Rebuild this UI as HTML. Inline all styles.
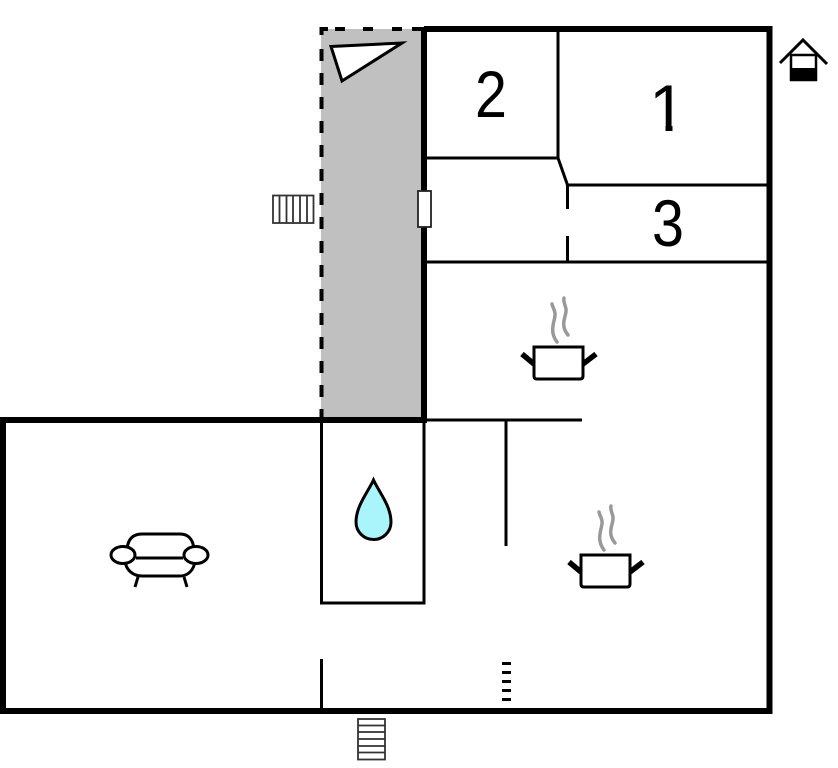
<!DOCTYPE html>
<html><head><meta charset="utf-8"><style>html,body{margin:0;padding:0;background:#fff}svg{display:block}text{font-family:"Liberation Sans",sans-serif;fill:#000}</style></head>
<body>
<svg width="838" height="768" viewBox="0 0 838 768" xmlns="http://www.w3.org/2000/svg">
<defs><clipPath id="one"><path d="M650 78H680V124H672.500V134H665.500V124H650Z"/></clipPath></defs>
<rect x="321" y="29" width="103" height="391" fill="#c0c0c0"/>
<g fill="none" stroke="#000" stroke-linecap="butt">
<path d="M321.500 49V420" stroke-width="4" stroke-dasharray="12 12"/>
<path d="M319.500 29H328M335 29H345M363 29H373M392 29H402M412 29H424" stroke-width="4"/>
<path d="M321.500 35V29" stroke-width="4"/>
<path d="M424 29H769.500V711H3V420H424V29" stroke-width="6"/>
<path d="M558 29V158L567.500 185V209M567.500 236V262M426 158H558M567.500 185H767M426 262H767" stroke-width="3"/>
<path d="M321.500 420V603H424V420M426 420H582M506 420V546M321.500 659V711" stroke-width="3"/>
<path d="M506.500 662V702" stroke-width="9" stroke-dasharray="3 6"/>
</g>
<path d="M331 46.500L402 43L342 81Z" fill="#fff" stroke="#000" stroke-width="3" stroke-linejoin="miter"/>
<g fill="none" stroke="#333" stroke-width="1.800">
<rect x="273" y="195.500" width="40.500" height="27.500"/>
<path d="M279.500 195.500V223M286.500 195.500V223M293 195.500V223M300 195.500V223M307 195.500V223"/>
<rect x="358" y="719" width="27" height="40.500"/>
<path d="M358 725.500H385M358 732H385M358 739H385M358 746H385M358 752.500H385"/>
</g>
<rect x="418" y="191" width="13" height="36" fill="#fff" stroke="#222" stroke-width="1.800"/>
<path d="M780 63L803 40L827 64" fill="none" stroke="#000" stroke-width="3"/>
<rect x="791" y="55" width="25" height="25" fill="#fff" stroke="#000" stroke-width="2.500"/>
<rect x="790" y="68" width="27" height="13" fill="#000"/>
<text x="491" y="117" font-size="66" text-anchor="middle" transform="translate(491 0) scale(.87 1) translate(-491 0)">2</text>
<text x="667.500" y="131" font-size="66" text-anchor="middle" clip-path="url(#one)">1</text>
<text x="668" y="246" font-size="66" text-anchor="middle" transform="translate(668 0) scale(.87 1) translate(-668 0)">3</text>
<g fill="none">
<path d="M557 342C548 330 556 320 555 313C554 308 552 306 552 304M568 335C559 324 567 316 566 309C565 304 563 301 564 298" stroke="#999" stroke-width="3.500" stroke-linecap="round"/>
<path d="M534 347H583V376Q583 379 580 379H537Q534 379 534 376Z" fill="#fff" stroke="#000" stroke-width="3"/>
<path d="M534 364L522 354M583 364L596 354" stroke="#000" stroke-width="5.500"/>
</g>
<g fill="none" transform="translate(47,208)">
<path d="M557 342C548 330 556 320 555 313C554 308 552 306 552 304M568 335C559 324 567 316 566 309C565 304 563 301 564 298" stroke="#999" stroke-width="3.500" stroke-linecap="round"/>
<path d="M534 347H583V376Q583 379 580 379H537Q534 379 534 376Z" fill="#fff" stroke="#000" stroke-width="3"/>
<path d="M534 364L522 354M583 364L596 354" stroke="#000" stroke-width="5.500"/>
</g>
<path d="M373.500 480C368 492 356 506 356 522C356 532 364 539.500 373.500 539.500C383 539.500 391 532 391 522C391 506 379 492 373.500 480Z" fill="#aaf5fb" stroke="#000" stroke-width="3"/>
<g fill="none" stroke="#000" stroke-width="3">
<path d="M127 549C128 539 133 534 142 534H180C188 534 193 539 194 549"/>
<path d="M125 561C126 570 133 576 142 576H180C188 576 194 570 195 561"/>
<path d="M136 558H183"/>
<ellipse cx="123" cy="555" rx="12" ry="8.500" fill="#fff"/>
<ellipse cx="196" cy="555" rx="12" ry="8.500" fill="#fff"/>
<path d="M138 577L135 587M184 577L187 587"/>
</g>
</svg>
</body></html>
